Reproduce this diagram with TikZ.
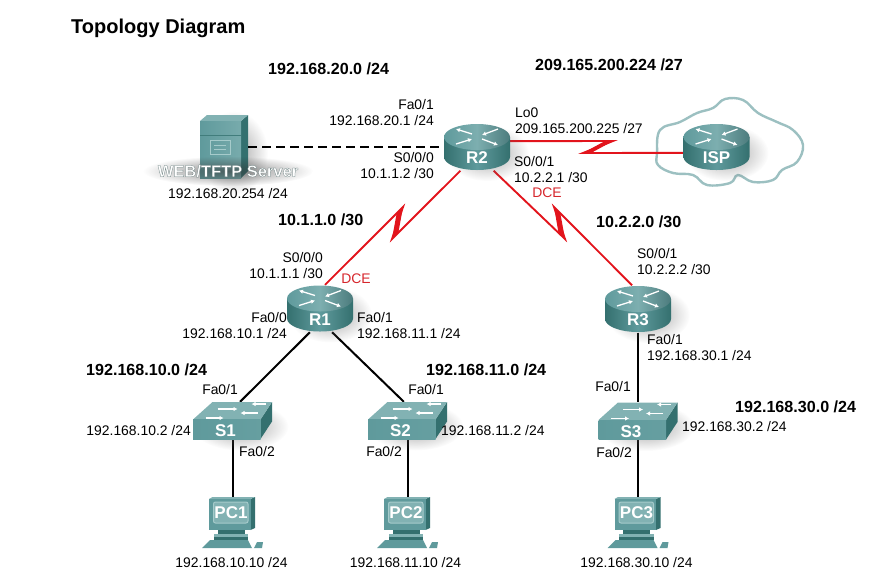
\documentclass[tikz,border=0pt]{standalone}
\usepackage{fontspec}
\setmainfont{Liberation Sans}
\usepackage{tikz}
\usetikzlibrary{calc, arrows.meta, fadings}
\definecolor{tealdark}{HTML}{34706F}
\definecolor{tealmid}{HTML}{5F9A9C}
\definecolor{teallite}{HTML}{82B2B3}
\definecolor{tealpale}{HTML}{A6CBCB}
\definecolor{cloudline}{HTML}{9CC0C1}
\definecolor{serialred}{HTML}{E2141C}
\definecolor{dcered}{HTML}{D6262C}
\tikzfading[name=softblob, inner color=transparent!40, outer color=transparent!100]
\newcommand{\edgedtext}[2]{\special{pdf:code 2 Tr #1 w 0.38 0.47 0.47 RG}#2\special{pdf:code 0 Tr}}

\begin{document}
\begin{tikzpicture}[
  x=1pt, y=-1pt,
  routerbox/.style={minimum width=66pt, minimum height=47pt, inner sep=0pt},
  switchbox/.style={minimum width=79pt, minimum height=37pt, inner sep=0pt},
  pcbox/.style={minimum width=61pt, minimum height=52pt, inner sep=0pt},
  serverbox/.style={minimum width=48pt, minimum height=63pt, inner sep=0pt},
  devlabel/.style={font=\fontsize{17}{17}\selectfont\bfseries, text=white, inner sep=0pt},
  iplabel/.style={font=\fontsize{13.9}{16}\selectfont, inner sep=0pt, align=left},
  iplabelr/.style={iplabel, align=right},
  netlabel/.style={font=\fontsize{16.1}{18}\selectfont\bfseries, inner sep=0pt},
  dcelabel/.style={iplabel, text=dcered},
  lan/.style={draw=black, line width=2pt},
  wan/.style={draw=serialred, line width=1.9pt, miter limit=20},
  softshadow/.style={fill=black!60, path fading=softblob},
  arrowtop/.style={draw=white, line width=1.3pt, -{Latex[length=4pt,width=4.5pt]}},
  pics/routerpic/.style={code={
    \fill[softshadow] (10,6) ellipse [x radius=42, y radius=28];
    \path[left color=tealdark, right color=tealdark, middle color=tealmid]
      (-33,-10) -- (-33,10) arc[start angle=180, end angle=0, x radius=33, y radius=13] -- (33,-10) -- cycle;
    \path[left color=tealmid, right color=tealmid!80!black, middle color=teallite!85!tealmid]
      (0,-10) ellipse [x radius=33, y radius=13];
    \draw[arrowtop] (-5,-13) -- (-21,-18);
    \draw[arrowtop] (21,-18) -- (5,-12);
    \draw[arrowtop] (-21,-3) -- (-5,-8);
    \draw[arrowtop] (5,-8) -- (21,-2);
    \node[devlabel] (#1lbl) at (0,11) {#1};
  }},
  pics/switchpic/.style={code={
    \fill[softshadow] (8,6) ellipse [x radius=48, y radius=24];
    \fill[tealdark] (28,-1) -- (39.5,-18.5) -- (39.5,1) -- (28,18.5) -- cycle;
    \fill[teallite] (-39.5,-1) -- (-20,-18.5) -- (39.5,-18.5) -- (28,-1) -- cycle;
    \path[left color=tealmid, right color=tealmid!80!teallite] (-39.5,-1) rectangle (28,18.5);
    \draw[arrowtop] (33,-16.5) -- (19,-16.5);
    \draw[arrowtop] (-15,-11.5) -- (5,-11.5);
    \draw[arrowtop] (25,-7.5) -- (8,-7.5);
    \draw[arrowtop] (-27,-2.5) -- (-9,-2.5);
    \node[devlabel] (#1lbl) at (-7,10.5) {#1};
  }},
  pics/pcpic/.style={code={
    \fill[tealdark] (18,-24) -- (22.5,-26) -- (22.5,5) -- (18,7) -- cycle;
    \fill[teallite] (-23.5,-24) -- (-20,-26) -- (22.5,-26) -- (18,-24) -- cycle;
    \fill[tealmid] (-23.5,-24) rectangle (18,7);
    \fill[teallite, draw=tealpale, line width=1pt, rounded corners=2pt] (-19,-21) rectangle (15.5,0);
    \fill[tealdark] (-15,7) rectangle (12,11);
    \fill[teallite] (-19,11) rectangle (15.5,14);
    \fill[tealdark] (-19,14) rectangle (15.5,17);
    \fill[tealmid] (-30.5,25) -- (19.5,25) -- (15.5,17) -- (-22.5,17) -- cycle;
    \fill[tealmid] (21.5,25) -- (29.5,25) -- (30.5,19) -- (24.5,19) -- cycle;
    \node[devlabel] (#1lbl) at (-1.5,-10) {#1};
  }},
  pics/serverpic/.style={code={
    \fill[softshadow] (10,6) ellipse [x radius=34, y radius=42];
    \fill[tealdark] (17,-26) -- (24,-32) -- (24,24) -- (17,31) -- cycle;
    \fill[teallite] (-24,-26) -- (-17,-32) -- (24,-32) -- (17,-26) -- cycle;
    \path[left color=tealmid, right color=teallite!70!tealmid] (-24,-26) rectangle (17,31);
    \draw[tealdark!70!tealmid] (-24,-12) -- (17,-12);
    \draw[tealpale, line width=1pt] (-14,-7) rectangle (6,7);
    \draw[tealpale, line width=1pt] (-10,-2) -- (2,-2);
    \draw[tealpale, line width=1pt] (-10,2) -- (2,2);
  }}
]
\useasboundingbox (0,0) rectangle (890,582);

% device places
\node[routerbox] (R2) at (477,147) {};
\node[routerbox] (R1) at (320,308.5) {};
\node[routerbox] (R3) at (638,309) {};
\node[routerbox] (ISP) at (716.5,147) {};
\node[switchbox] (S1) at (232.5,420.5) {};
\node[switchbox] (S2) at (407.5,420.5) {};
\node[switchbox] (S3) at (638,421) {};
\node[pcbox] (PC1) at (232.5,523) {};
\node[pcbox] (PC2) at (407.5,523) {};
\node[pcbox] (PC3) at (638,523) {};
\node[serverbox] (WEB) at (224,147) {};

\draw[cloudline, line width=2.4pt, fill=white] plot[smooth cycle, tension=0.65] coordinates {
  (657,153) (660,130) (680,122) (697,113) (713,108) (725,99) (743,100) (758,113)
  (777,122) (793,130) (803,145) (797,162) (782,170) (773,180) (753,182) (738,175)
  (730,183) (707,185) (693,175) (673,173) (658,165)};

% server goes under the dashed link
\pic at (WEB) {serverpic};
\fill[fill=black!80, path fading=softblob] (228,171) ellipse [x radius=85, y radius=15];
\node[font=\fontsize{16.5}{17}\selectfont\bfseries, text=white, inner sep=0pt] (WEBlbl) at (228,171) {\edgedtext{0.25}{WEB/TFTP Server}};

% links
\draw[lan, dash pattern=on 9pt off 5pt] (WEB.east) -- (R2.west);
\draw[lan] (R1.247) -- (S1.68);
\draw[lan] (R1.297) -- (S2.101);
\draw[lan] (R3.south) -- (S3.north);
\draw[lan] (S1.south) -- (PC1.north);
\draw[lan] (S2.south) -- (PC2.north);
\draw[lan] (S3.south) -- (PC3.north);

\coordinate (boltA1) at (392,239);
\coordinate (boltA2) at (403,207);
\coordinate (boltB1) at (565,239);
\coordinate (boltB2) at (554,207);
\coordinate (boltC1) at (613,141);
\coordinate (boltC2) at (583,153);
\draw[wan] (R2.235) -- (boltA1) -- (boltA2) -- (R1.78);
\fill[serialred] (boltA1) -- ($(boltA1)!9pt!(R2.235)$) -- (boltA2) -- ($(boltA2)!9pt!(R1.78)$) -- cycle;
\draw[wan] (R2.305) -- (boltB1) -- (boltB2) -- (R3.104);
\fill[serialred] (boltB1) -- ($(boltB1)!9pt!(R2.305)$) -- (boltB2) -- ($(boltB2)!9pt!(R3.104)$) -- cycle;
\draw[wan] (R2.10) -- (boltC1) -- (boltC2) -- (ISP.190);
\fill[serialred] (boltC1) -- ($(boltC1)!8pt!(R2.10)$) -- (boltC2) -- ($(boltC2)!8pt!(ISP.190)$) -- cycle;

\pic at (R2) {routerpic=R2};
\pic at (R1) {routerpic=R1};
\pic at (R3) {routerpic=R3};
\pic at (ISP) {routerpic=ISP};
\pic at (S1) {switchpic=S1};
\pic at (S2) {switchpic=S2};
\pic at (S3) {switchpic=S3};
\pic at (PC1) {pcpic=PC1};
\pic at (PC2) {pcpic=PC2};
\pic at (PC3) {pcpic=PC3};

% texts
\node[font=\fontsize{20}{22}\selectfont\bfseries, inner sep=0pt, anchor=west] (title) at (71,28) {Topology Diagram};
\node[netlabel, anchor=west] (net20) at (268,69) {192.168.20.0 /24};
\node[netlabel, anchor=west] (net209) at (535,65) {209.165.200.224 /27};
\node[netlabel, anchor=west] (net1) at (278,220) {10.1.1.0 /30};
\node[netlabel, anchor=west] (net2) at (596,222) {10.2.2.0 /30};
\node[netlabel, anchor=west] (net10) at (86,370) {192.168.10.0 /24};
\node[netlabel, anchor=west] (net11) at (426,370) {192.168.11.0 /24};
\node[netlabel, anchor=west] (net30) at (735,407) {192.168.30.0 /24};

\node[iplabel] (WEBip) at (228,194) {192.168.20.254 /24};
\node[iplabelr, anchor=east] (R2fa) at (434,113) {Fa0/1\\192.168.20.1 /24};
\node[iplabelr, anchor=east] (R2s0) at (434,166) {S0/0/0\\10.1.1.2 /30};
\node[iplabel, anchor=west] (R2lo) at (515,121) {Lo0\\209.165.200.225 /27};
\node[iplabel, anchor=west] (R2s1) at (514,170) {S0/0/1\\10.2.2.1 /30};
\node[dcelabel] (R2dce) at (547,193) {DCE};
\node[iplabelr, anchor=east] (R1s0) at (323,266) {S0/0/0\\10.1.1.1 /30};
\node[dcelabel] (R1dce) at (356,279) {DCE};
\node[iplabel, anchor=west] (R3s1) at (637,262) {S0/0/1\\10.2.2.2 /30};
\node[iplabelr, anchor=east] (R1fa0) at (287,326) {Fa0/0\\192.168.10.1 /24};
\node[iplabel, anchor=west] (R1fa1) at (357,326) {Fa0/1\\192.168.11.1 /24};
\node[iplabel, anchor=west] (R3fa1) at (647,348) {Fa0/1\\192.168.30.1 /24};

\node[iplabel, anchor=east] (S1fa1) at (238,390) {Fa0/1};
\node[iplabel, anchor=east] (S2fa1) at (444,390) {Fa0/1};
\node[iplabel, anchor=east] (S3fa1) at (631,387) {Fa0/1};
\node[iplabel, anchor=east] (S1ip) at (191,431) {192.168.10.2 /24};
\node[iplabel, anchor=west] (S2ip) at (441,431) {192.168.11.2 /24};
\node[iplabel, anchor=west] (S3ip) at (682,427) {192.168.30.2 /24};
\node[iplabel, anchor=west] (S1fa2) at (239,452) {Fa0/2};
\node[iplabel, anchor=east] (S2fa2) at (402,452) {Fa0/2};
\node[iplabel, anchor=east] (S3fa2) at (632,453) {Fa0/2};
\node[iplabel] (PC1ip) at (231.5,563) {192.168.10.10 /24};
\node[iplabel] (PC2ip) at (405.5,563) {192.168.11.10 /24};
\node[iplabel] (PC3ip) at (636.5,563) {192.168.30.10 /24};

\end{tikzpicture}
\end{document}
